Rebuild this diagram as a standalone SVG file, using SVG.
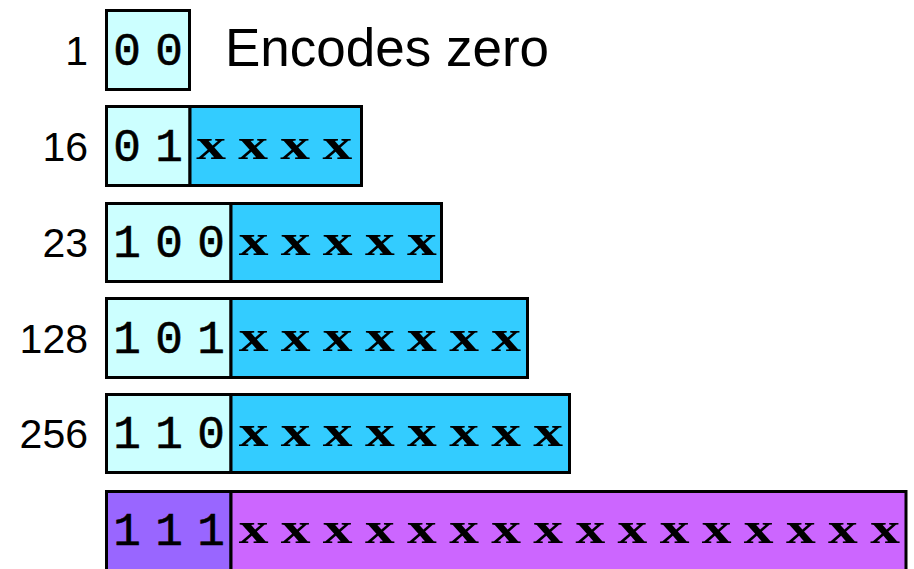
<svg xmlns="http://www.w3.org/2000/svg" width="914" height="569" viewBox="0 0 914 569">
<style>
rect{stroke:#000;stroke-width:3}
.pre{fill:#CCFFFF}
.pay{fill:#33CCFF}
.pre7{fill:#9966FF}
.pay7{fill:#CC66FF}
.lbl{font-family:"Liberation Sans",Arial,sans-serif;font-size:41px;text-anchor:end;fill:#000}
.bits{font-family:"Liberation Mono","Courier New",monospace;font-size:46px;text-anchor:middle;fill:#000;stroke:#000;stroke-width:0.6}
.xs{font-family:"Liberation Serif","Times New Roman",serif;font-size:44px;font-weight:bold;text-anchor:middle;fill:#000}
.note{font-family:"Liberation Sans",Arial,sans-serif;font-size:53px;fill:#000}
</style>
<g id="row-1">
<rect class="pre" x="106.5" y="10.5" width="83" height="79"/>
<text class="lbl" x="88" y="65">1</text>
<text class="bits" x="127 169" y="64.5">00</text>
<text class="note" x="225" y="66">Encodes zero</text>
</g>
<g id="row-16">
<rect class="pre" x="106.5" y="106.5" width="83.5" height="79"/>
<rect class="pay" x="190" y="106.5" width="171.5" height="79"/>
<text class="lbl" x="88" y="161">16</text>
<text class="bits" x="127 169" y="160.5">01</text>
<text class="xs" transform="scale(1.35,1)" x="156.30 187.48 218.67 249.85" y="159">xxxx</text>
</g>
<g id="row-23">
<rect class="pre" x="106.5" y="203.5" width="124.5" height="78"/>
<rect class="pay" x="231" y="203.5" width="210.5" height="78"/>
<text class="lbl" x="88" y="257">23</text>
<text class="bits" x="127 169 211" y="257">100</text>
<text class="xs" transform="scale(1.35,1)" x="187.78 218.96 250.15 281.33 312.52" y="255.5">xxxxx</text>
</g>
<g id="row-128">
<rect class="pre" x="106.5" y="298.5" width="124.5" height="79"/>
<rect class="pay" x="231" y="298.5" width="296.5" height="79"/>
<text class="lbl" x="88" y="353">128</text>
<text class="bits" x="127 169 211" y="352.5">101</text>
<text class="xs" transform="scale(1.35,1)" x="187.78 218.96 250.15 281.33 312.52 343.70 374.89" y="351">xxxxxxx</text>
</g>
<g id="row-256">
<rect class="pre" x="106.5" y="394.5" width="124.5" height="78"/>
<rect class="pay" x="231" y="394.5" width="338.5" height="78"/>
<text class="lbl" x="88" y="448">256</text>
<text class="bits" x="127 169 211" y="448">110</text>
<text class="xs" transform="scale(1.35,1)" x="187.78 218.96 250.15 281.33 312.52 343.70 374.89 406.07" y="446.5">xxxxxxxx</text>
</g>
<g id="row-escape">
<rect class="pre7" x="106.5" y="491.5" width="124.5" height="80"/>
<rect class="pay7" x="231" y="491.5" width="675" height="80"/>
<text class="bits" x="127 169 211" y="544.5">111</text>
<text class="xs" transform="scale(1.35,1)" x="187.78 218.96 250.15 281.33 312.52 343.70 374.89 406.07 437.26 468.44 499.63 530.81 562.0 593.19 624.37 655.56" y="543">xxxxxxxxxxxxxxxx</text>
</g>
<g id="connectors"/>
</svg>
